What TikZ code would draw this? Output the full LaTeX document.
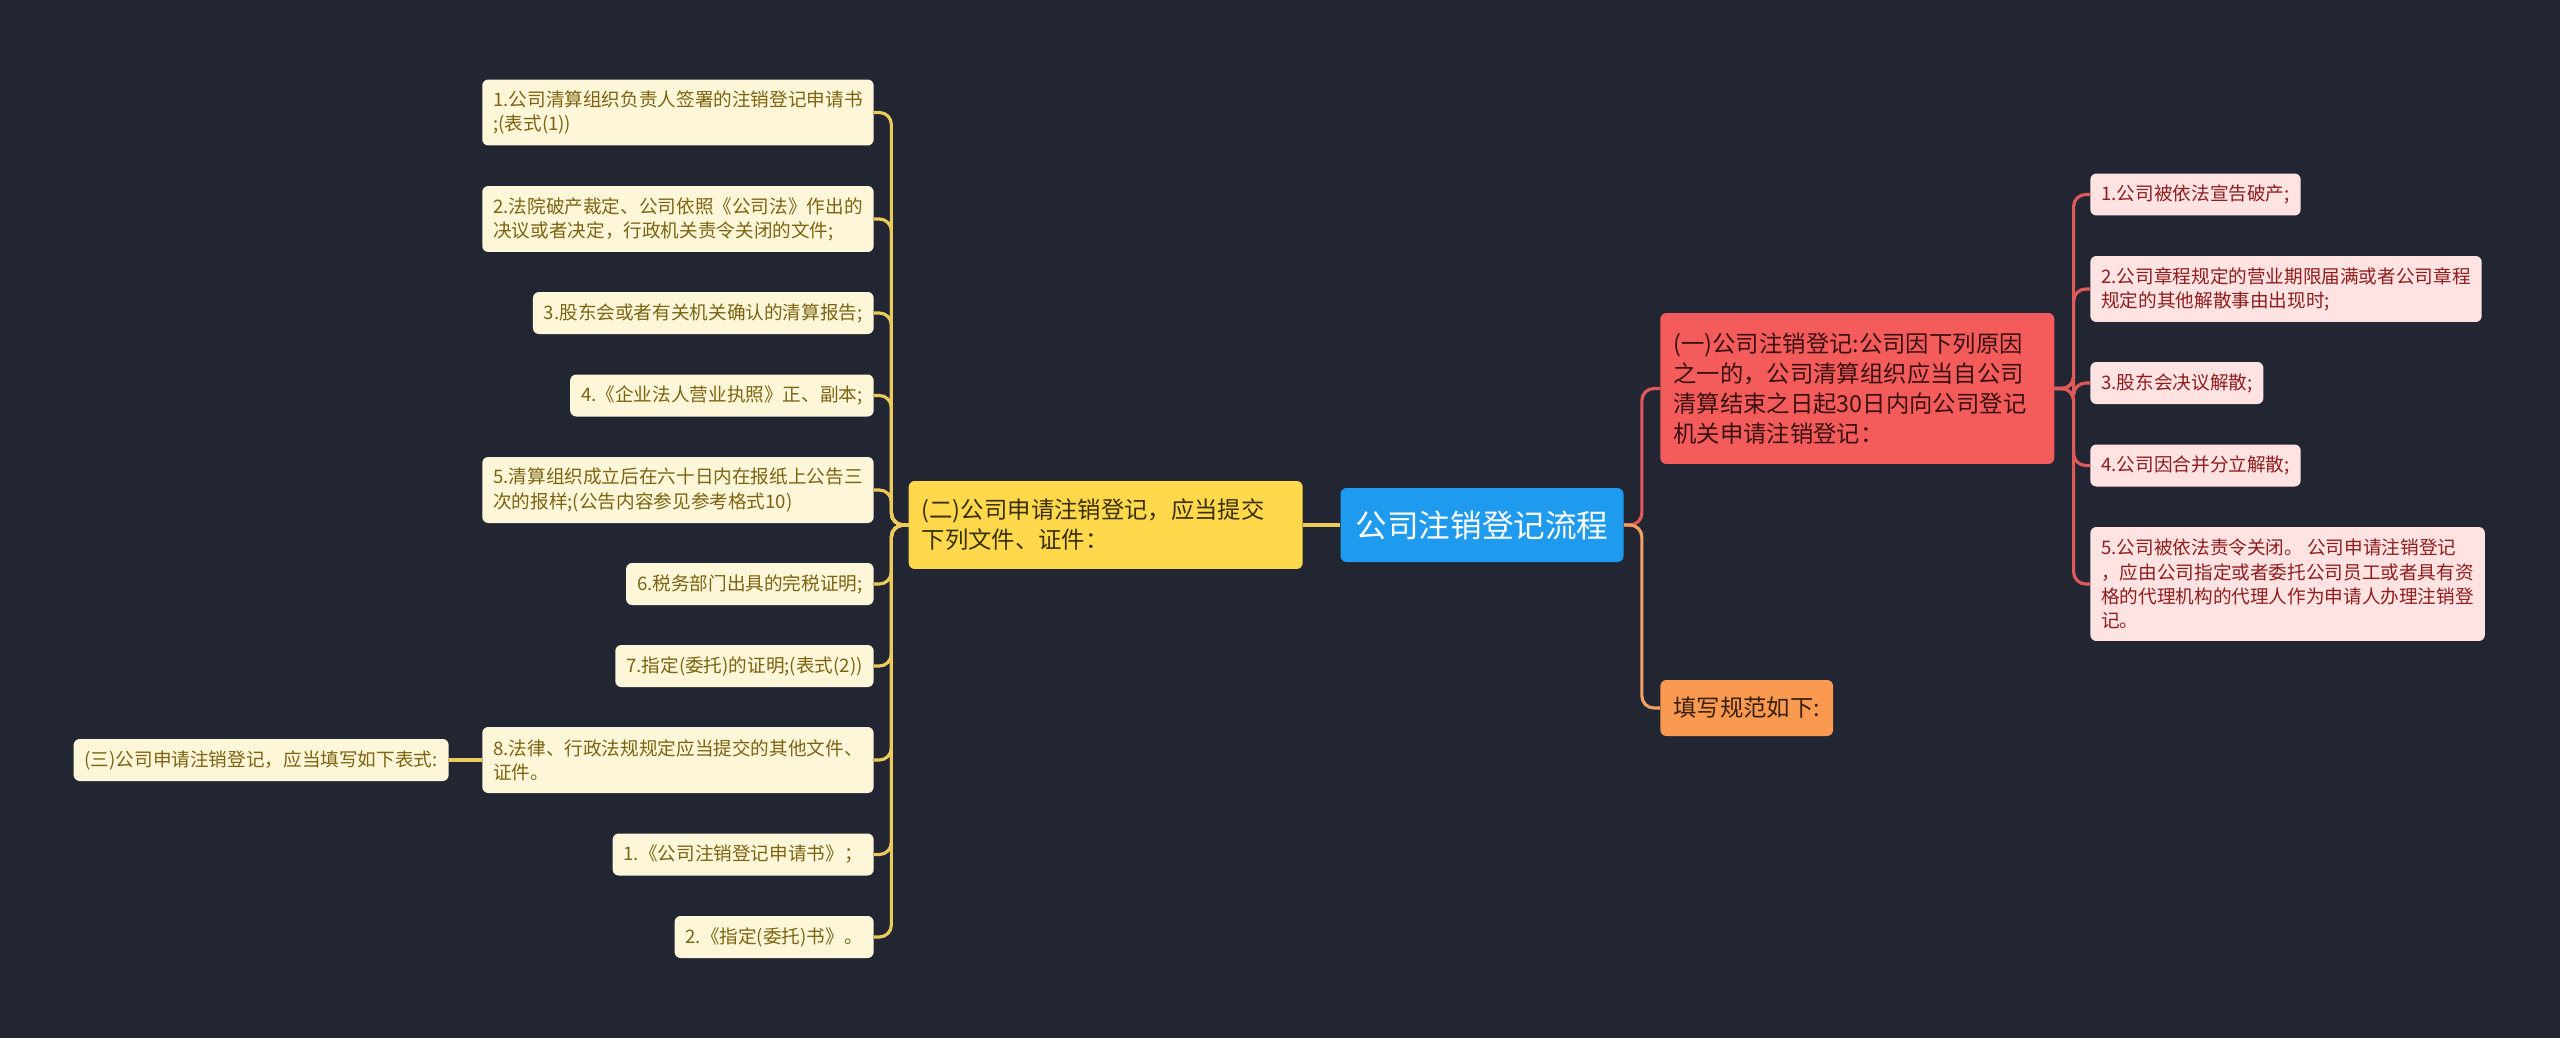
\documentclass[tikz,border=0pt]{standalone}
\usepackage{fontspec}
\setmainfont{Noto Sans CJK SC}
\usetikzlibrary{positioning}
\definecolor{bgcol}{HTML}{222633}
\definecolor{rootfill}{HTML}{1E9AEF}
\definecolor{yfill}{HTML}{FFD84B}
\definecolor{ytext}{HTML}{3A3008}
\definecolor{cfill}{HTML}{FEF6D8}
\definecolor{ctext}{HTML}{7B6412}
\definecolor{yline}{HTML}{EDCB5A}
\definecolor{rfill}{HTML}{F45C5C}
\definecolor{rtext}{HTML}{3A1010}
\definecolor{pfill}{HTML}{FFE2E2}
\definecolor{ptext}{HTML}{8E1E1E}
\definecolor{rline}{HTML}{E05A5A}
\definecolor{ofill}{HTML}{FA9A50}
\definecolor{otext}{HTML}{3A2010}
\definecolor{oline}{HTML}{F0A060}
\tikzset{
  box/.style={rounded corners=0.12cm, inner xsep=0.22cm, inner ysep=0cm, align=left},
  rootbox/.style={box, fill=rootfill, text=white, font=\fontsize{18}{22}\selectfont, minimum height=1.48cm, inner xsep=0.3cm},
  midbox/.style={box, font=\fontsize{13.3}{17}\selectfont, inner xsep=0.26cm},
  widebox/.style={text width=7.36cm},
  leafbox/.style={box, font=\fontsize{10.6}{13.8}\selectfont, minimum height=0.84cm},
  cream/.style={leafbox, fill=cfill, text=ctext},
  pink/.style={leafbox, fill=pfill, text=ptext},
  twoline/.style={minimum height=1.32cm},
  yconn/.style={draw=yline, line width=1.8pt, rounded corners=0.24cm},
  rconn/.style={draw=rline, line width=1.8pt, rounded corners=0.24cm},
  oconn/.style={draw=oline, line width=1.8pt, rounded corners=0.24cm}
}
\begin{document}
\begin{tikzpicture}[x=0.02cm, y=-0.02cm]
\fill[bgcol] (0,0) rectangle (2560,1038);
\useasboundingbox (0,0) rectangle (2560,1038);
% centre
\node[rootbox] (root) at (1482,525) {公司注销登记流程};
% left branch
\node[midbox, widebox, fill=yfill, text=ytext, minimum height=1.76cm, anchor=east] (n2) at (1303,525) {(二)公司申请注销登记，应当提交\\下列文件、证件：};
\node[cream, twoline, anchor=east] (a1) at (874,112.5) {1.公司清算组织负责人签署的注销登记申请书\\;(表式(1))};
\node[cream, twoline, anchor=east] (a2) at (874,219) {2.法院破产裁定、公司依照《公司法》作出的\\决议或者决定，行政机关责令关闭的文件;};
\node[cream, anchor=east] (a3) at (874,313) {3.股东会或者有关机关确认的清算报告;};
\node[cream, anchor=east] (a4) at (874,395.5) {4.《企业法人营业执照》正、副本;};
\node[cream, twoline, anchor=east] (a5) at (874,490) {5.清算组织成立后在六十日内在报纸上公告三\\次的报样;(公告内容参见参考格式10)};
\node[cream, anchor=east] (a6) at (874,584) {6.税务部门出具的完税证明;};
\node[cream, anchor=east] (a7) at (874,666) {7.指定(委托)的证明;(表式(2))};
\node[cream, twoline, anchor=east] (a8) at (874,760) {8.法律、行政法规规定应当提交的其他文件、\\证件。};
\node[cream, anchor=east] (a9) at (874,854.5) {1.《公司注销登记申请书》；};
\node[cream, anchor=east] (a10) at (874,937) {2.《指定(委托)书》。};
\node[cream, anchor=east] (b1) at (449,760) {(三)公司申请注销登记，应当填写如下表式:};
\draw[yconn] (root.west) -- (n2.east);
\foreach \i in {1,...,10}
  \draw[yconn] (n2.west) -- ++(-17,0) |- (a\i.east);
\draw[yconn] (a8.west) -- (b1.east);
% right branch
\node[midbox, widebox, fill=rfill, text=rtext, minimum height=3.02cm, anchor=west] (n1) at (1660,388.5) {(一)公司注销登记:公司因下列原因\\之一的，公司清算组织应当自公司\\清算结束之日起30日内向公司登记\\机关申请注销登记：};
\node[midbox, fill=ofill, text=otext, minimum height=1.12cm, anchor=west] (n3) at (1660,708) {填写规范如下:};
\node[pink, anchor=west] (r1) at (2090,194.5) {1.公司被依法宣告破产;};
\node[pink, twoline, anchor=west] (r2) at (2090,289) {2.公司章程规定的营业期限届满或者公司章程\\规定的其他解散事由出现时;};
\node[pink, anchor=west] (r3) at (2090,383) {3.股东会决议解散;};
\node[pink, anchor=west] (r4) at (2090,465.5) {4.公司因合并分立解散;};
\node[pink, minimum height=2.28cm, anchor=west] (r5) at (2090,584) {5.公司被依法责令关闭。 公司申请注销登记\\，应由公司指定或者委托公司员工或者具有资\\格的代理机构的代理人作为申请人办理注销登\\记。};
\draw[rconn] (root.east) -- ++(18,0) |- (n1.west);
\draw[oconn] (root.east) -- ++(18,0) |- (n3.west);
\foreach \i in {1,...,5}
  \draw[rconn] (n1.east) -- ++(19,0) |- (r\i.west);
\end{tikzpicture}
\end{document}
